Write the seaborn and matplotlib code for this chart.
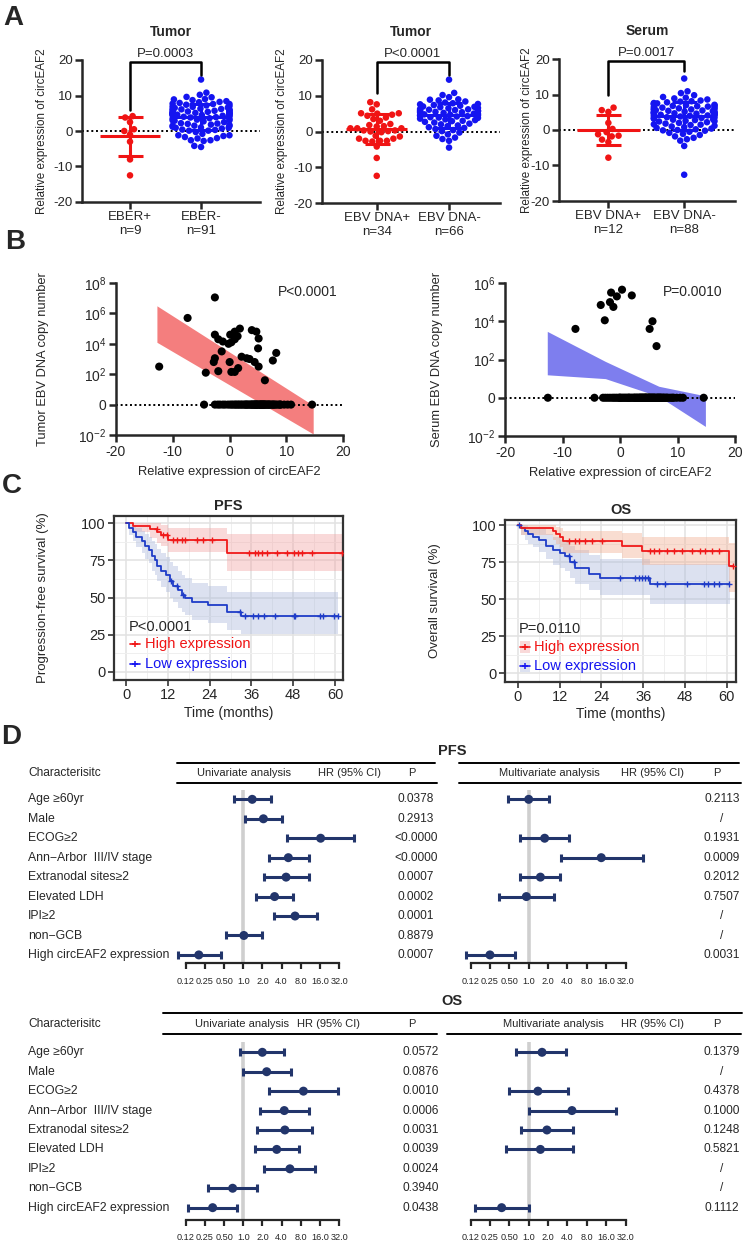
import numpy as np
import pandas as pd
import matplotlib
matplotlib.use("Agg")
import matplotlib.pyplot as plt
from matplotlib.ticker import MultipleLocator, NullLocator
import seaborn as sns

sns.set_theme(style="ticks")
plt.rcParams["font.family"] = ["Liberation Sans", "DejaVu Sans"]
plt.rcParams["mathtext.fontset"] = "custom"
plt.rcParams["mathtext.rm"] = "Liberation Sans"
plt.rcParams["axes.unicode_minus"] = False

# ---------------- data ----------------
# A: relative circEAF2 expression per group
eber_pos = [4.2, 3.8, 2.5, 0.5, 0.0, -1.0, -3.0, -8.0, -12.5]

# tumor EBV DNA+ patients: expression and log10 copy number (panel A2 / B1)
tumor_pos_expr = [-12.4, -7.4, -4.2, -2.8, -2.6, -2.6, -2.6, -2.0, -2.0, -1.4,
                  -1.2, -0.2, 0.0, 0.1, 0.3, 0.3, 0.9, 0.9, 0.9, 1.4,
                  1.5, 1.8, 2.1, 3.0, 3.5, 3.9, 4.4, 4.7, 5.0, 5.1,
                  5.1, 6.2, 7.6, 8.2]
tumor_pos_logc = [2.5, 5.7, 2.1, 2.8, 7.05, 4.6, 3.05, 4.3, 2.2, 3.5,
                  4.15, 4.0, 2.8, 4.6, 4.1, 2.15, 4.8, 4.3, 2.15, 4.5,
                  2.4, 5.0, 3.15, 3.05, 3.0, 4.9, 2.8, 4.8, 3.7, 4.35,
                  2.5, 1.6, 2.9, 3.4]
# tumor EBV DNA- patients (copy number 0)
tumor_neg_expr = [14.5, 10.8, 10.2, 9.6, 9.0, 8.7, 8.4, 8.1, 7.9, 7.6,
                  7.4, 7.2, 7.0, 6.8, 6.6, 6.5, 6.3, 6.2, 6.0, 5.9,
                  5.8, 5.6, 5.5, 5.4, 5.3, 5.2, 5.0, 4.9, 4.8, 4.7,
                  4.6, 4.5, 4.3, 4.2, 4.0, 3.8, 3.6, 3.4, 3.2, 3.0,
                  2.7, 2.5, 2.2, 2.0, 1.7, 1.5, 1.2, 1.0, 0.7, 0.4,
                  0.1, -0.3, -0.8, -1.2, -1.7, -2.1, -2.6, -4.5, 6.1, 5.7,
                  4.4, 7.7, 6.9, 8.9, 3.9, 2.9]
# EBER- = EBV DNA- tumors plus the remaining EBV DNA+ tumors
eber_neg = tumor_neg_expr + [-4.2, -2.8, -2.6, -2.0, -1.4, -1.2, 0.1, 0.3, 0.9, 0.9,
                             1.4, 1.5, 1.8, 2.1, 3.0, 3.5, 4.7, 5.0, 5.1, 5.1,
                             6.2, 7.6, 8.2, 9.5, 4.4]

serum_pos_expr = [-7.8, -3.4, -2.7, -1.8, -1.6, -1.2, -0.6, 0.3, 2.0, 5.1, 5.6, 6.3]
serum_pos_logc = [3.6, 4.85, 4.05, 5.0, 5.5, 4.75, 5.3, 5.65, 5.35, 3.6, 4.0, 2.7]
serum_neg_expr = [14.5, 10.9, 10.4, 9.8, 9.3, 8.9, 8.6, 8.3, 8.0, 7.8,
                  7.6, 7.4, 7.2, 7.0, 6.9, 6.7, 6.6, 6.4, 6.3, 6.1,
                  6.0, 5.9, 5.7, 5.6, 5.5, 5.4, 5.2, 5.1, 5.0, 4.9,
                  4.8, 4.6, 4.5, 4.4, 4.3, 4.1, 4.0, 3.9, 3.8, 3.6,
                  3.5, 3.3, 3.2, 3.0, 2.8, 2.6, 2.4, 2.2, 2.0, 1.8,
                  1.6, 1.4, 1.2, 1.0, 0.8, 0.6, 0.4, 0.2, 0.0, -0.2,
                  -0.5, -0.8, -1.1, -1.4, -1.8, -2.2, -2.6, -3.0, -4.5, -12.6,
                  7.1, 6.5, 5.8, 5.3, 4.7, 4.2, 3.4, 2.9, 8.1, 6.8,
                  5.0, 4.4, 3.7, 2.5, 7.5, 9.1, 1.5, -0.1]

# B: regression confidence bands (log10 copies)
tumor_band_x = [-12.8, 14.7]
tumor_band_lo = [4.1, -1.93]
tumor_band_hi = [6.5, -0.05]
serum_band_x = [-12.7, -2.6, 6.7, 14.8]
serum_band_lo = [1.2, 1.0, 0.07, -1.5]
serum_band_hi = [3.47, 1.9, 0.6, 0.1]

# C: Kaplan-Meier estimates (%), 95% CI and censor times (months)
pfs_high_t = [0, 2, 7, 9, 10, 12, 29]
pfs_high_s = [100, 98, 96, 94, 92, 89, 80]
pfs_high_lo = [100, 94, 90, 87, 85, 81, 68]
pfs_high_hi = [100, 100, 100, 100, 99, 97, 93]
pfs_high_cens = [8.8, 10.7, 11.7, 13.6, 14.6, 16.0, 16.9, 20.3, 22.2, 24.6, 35.2, 37.1,
                 38.0, 39.0, 40.4, 43.3, 46.2, 48.1, 49.5, 50.5, 53.4, 62.0]
pfs_low_t = [0, 1, 2, 3, 4.5, 5.5, 6.5, 7.5, 8.2, 9, 10, 11.5, 12.5, 13.5, 15, 16, 17, 19, 23.5, 29, 33]
pfs_low_s = [100, 97, 94, 91, 88, 85, 82, 78, 75, 71, 68, 65, 61, 58, 55, 52, 50, 47, 45, 40, 37.5]
pfs_low_lo = [100, 92, 88, 84, 80, 76, 73, 68, 65, 61, 57, 54, 50, 47, 43, 40, 38, 35, 33, 28, 25.5]
pfs_low_hi = [100, 100, 99, 97, 95, 93, 91, 88, 86, 83, 80, 77, 74, 71, 68, 65, 63, 60, 58, 54, 53.5]
pfs_low_cens = [13.0, 14.6, 16.5, 32.8, 34.2, 36.6, 38.0, 39.5, 42.8, 48.1, 48.6, 55.7, 56.7, 59.6, 61.0]

os_high_t = [0, 1, 10, 11, 12, 13, 30, 35.5, 60.5]
os_high_s = [100, 98, 96, 94, 92, 89, 86, 82.5, 72.5]
os_high_lo = [100, 93, 90, 87, 85, 81, 77.5, 73, 55]
os_high_hi = [100, 100, 100, 99, 98, 96, 94.5, 92, 88]
os_high_cens = [14.6, 16.5, 17.5, 19.4, 21.3, 24.2, 38.0, 39.0, 40.4, 42.8, 44.7, 47.1,
                50.0, 52.3, 53.8, 55.7, 57.6, 61.6]
os_low_t = [0, 1, 2, 3, 4.5, 6, 8, 10, 12, 13.5, 15, 16.5, 20.5, 23.5, 38]
os_low_s = [100, 98, 96, 94, 92, 90, 86, 83, 81, 79, 75, 71, 67, 64, 60]
os_low_lo = [100, 93, 90, 87, 85, 82, 77, 73, 71, 69, 64, 60, 56, 53, 47]
os_low_hi = [100, 100, 100, 99, 98, 97, 94, 92, 90, 89, 86, 83, 80, 77, 74]
os_low_cens = [0.3, 14.6, 16.0, 29.4, 33.7, 34.7, 35.6, 36.6, 37.5, 39.9, 42.3, 48.5,
               53.3, 54.7, 56.2, 57.6, 60.5]

# D: Cox regression
rows = ["Age \u226560yr", "Male", "ECOG\u22652", "Ann\u2212Arbor  III/IV stage", "Extranodal sites\u22652",
        "Elevated LDH", "IPI\u22652", "non\u2212GCB", "High circEAF2 expression"]
nan = np.nan
pfs_uni_hr = [1.38, 2.07, 16.4, 5.1, 4.7, 3.1, 6.5, 1.02, 0.20]
pfs_uni_lo = [0.72, 1.07, 4.9, 2.5, 2.1, 1.6, 3.05, 0.53, 0.093]
pfs_uni_hi = [2.7, 4.08, 55, 10.8, 10.8, 6.1, 14.2, 2.0, 0.44]
pfs_uni_p = ["0.0378", "0.2913", "<0.0000", "<0.0000", "0.0007", "0.0002", "0.0001", "0.8879", "0.0007"]
pfs_multi_hr = [1.0, nan, 1.77, 13.4, 1.52, 0.92, nan, nan, 0.25]
pfs_multi_lo = [0.48, nan, 0.74, 3.2, 0.73, 0.35, nan, nan, 0.107]
pfs_multi_hi = [2.04, nan, 4.2, 59, 3.1, 2.45, nan, nan, 0.61]
pfs_multi_p = ["0.2113", "/", "0.1931", "0.0009", "0.2012", "0.7507", "/", "/", "0.0031"]
os_uni_hr = [1.99, 2.33, 8.8, 4.4, 4.5, 3.35, 5.4, 0.68, 0.33]
os_uni_lo = [0.89, 0.98, 2.56, 1.83, 1.66, 1.53, 2.14, 0.28, 0.137]
os_uni_hi = [4.4, 5.7, 31, 10.8, 12.1, 7.6, 13.4, 1.62, 0.81]
os_uni_p = ["0.0572", "0.0876", "0.0010", "0.0006", "0.0031", "0.0039", "0.0024", "0.3940", "0.0438"]
os_multi_hr = [1.61, nan, 1.39, 4.7, 1.92, 1.52, nan, nan, 0.38]
os_multi_lo = [0.64, nan, 0.49, 1.0, 0.76, 0.44, nan, nan, 0.145]
os_multi_hi = [3.8, nan, 4.08, 22.6, 4.8, 4.9, nan, nan, 1.0]
os_multi_p = ["0.1379", "/", "0.4378", "0.1000", "0.1248", "0.5821", "/", "/", "0.1112"]

hr_ticks = [0.125, 0.25, 0.5, 1, 2, 4, 8, 16, 32]
hr_tick_labels = ["0.12", "0.25", "0.50", "1.0", "2.0", "4.0", "8.0", "16.0", "32.0"]

RED = "#F01414"
BLUE = "#1414F0"
NAVY = "#22356B"

W, H = 744, 1242
fig = plt.figure(figsize=(W / 100, H / 100), dpi=100)


def px_axes(x0, y0, x1, y1):
    return fig.add_axes([x0 / W, 1 - y1 / H, (x1 - x0) / W, (y1 - y0) / H])


# overlay in pixel coordinates for letters and the table text
ov = fig.add_axes([0, 0, 1, 1])
ov.set_xlim(0, W)
ov.set_ylim(H, 0)
ov.axis("off")
for letter, (lx, ly) in zip("ABCD", [(13, 18), (15, 242), (12, 486), (11, 737)]):
    ov.text(lx, ly, letter, fontsize=20, fontweight="bold", ha="center", va="center")


# ---------------- A: scatter dot plots ----------------
def scatter_panel(ax, pos, neg, ticklabels, title, ptext, legs, xlim, ylab_x):
    df = pd.DataFrame({"grp": ["pos"] * len(pos) + ["neg"] * len(neg), "val": list(pos) + list(neg)})
    ax.set_ylim(-20, 20)
    ax.axhline(0, color="black", ls=(0, (1, 1.4)), lw=1.4, zorder=1)
    sns.swarmplot(data=df, x="grp", y="val", hue="grp", order=["pos", "neg"], hue_order=["pos", "neg"],
                  palette=[RED, BLUE], size=4.7, legend=False, ax=ax, warn_thresh=1, zorder=2)
    for i, (vals, col) in enumerate([(pos, RED), (neg, BLUE)]):
        m, sd = np.mean(vals), np.std(vals, ddof=1)
        ax.hlines(m, i - 0.42, i + 0.42, color=col, lw=2.2, zorder=4)
        ax.errorbar(i, m, yerr=sd, color=col, capsize=9, elinewidth=2.2, capthick=2.2, zorder=4)
    ax.set_xlim(*xlim)
    ax.set_ylim(-20, 20)
    ax.plot([0, 0, 1, 1], [legs[0], 19.4, 19.4, legs[1]], color="black", lw=1.8, clip_on=False)
    ax.text(0.5, 21.6, ptext, ha="center", va="center", fontsize=9.5)
    ax.text(0.5, 1.197, title, transform=ax.transAxes, ha="center", va="center", fontsize=10, fontweight="bold")
    ax.set_yticks([-20, -10, 0, 10, 20])
    ax.set_xticks([0, 1])
    ax.set_xticklabels(ticklabels, fontsize=9.5, linespacing=1.25)
    ax.tick_params(axis="both", length=5, width=1.8, labelsize=9.5, pad=1.5)
    for sp in ["left", "bottom"]:
        ax.spines[sp].set_linewidth(1.8)
    sns.despine(ax=ax)
    ax.set_xlabel("")
    ax.set_ylabel("Relative expression of circEAF2", fontsize=8.4)
    ax.yaxis.set_label_coords(ylab_x, 0.5)
    ax.yaxis.label.set_va("center")


a1 = px_axes(82, 60, 260, 202)
scatter_panel(a1, eber_pos, eber_neg, ["EBER+\nn=9", "EBER-\nn=91"], "Tumor", "P=0.0003",
              (5.9, 15.8), (-0.676, 1.83), (41.7 - 82) / 178)
a2 = px_axes(322, 60, 500, 203)
scatter_panel(a2, tumor_pos_expr, tumor_neg_expr, ["EBV DNA+\nn=34", "EBV DNA-\nn=66"], "Tumor", "P<0.0001",
              (10.7, 15.8), (-0.757, 1.705), (282 - 322) / 178)
a3 = px_axes(559, 59, 735, 201)
scatter_panel(a3, serum_pos_expr, serum_neg_expr, ["EBV DNA+\nn=12", "EBV DNA-\nn=88"], "Serum", "P=0.0017",
              (10.0, 16.5), (-0.651, 1.67), (527 - 559) / 176)


# ---------------- B: copy number vs expression ----------------
def copy_panel(ax, pos_x, pos_logc, neg_x, bx, blo, bhi, bcol, top_exp, ptext, pxy, ylabel, ylab_x):
    ax.set_yscale("log")
    ax.fill_between(bx, 10 ** np.array(blo), 10 ** np.array(bhi), color=bcol, lw=0, zorder=1)
    ax.axhline(1, color="black", ls=(0, (1, 1.4)), lw=1.4, zorder=2)
    df = pd.DataFrame({"expr": list(pos_x) + list(neg_x),
                       "copies": [10 ** v for v in pos_logc] + [0] * len(neg_x)})
    # zero copy numbers are drawn on the "0" row
    df["plot_y"] = df["copies"].where(df["copies"] > 0, 1.0)
    sns.scatterplot(data=df, x="expr", y="plot_y", color="black", s=34, edgecolor="none",
                    ax=ax, zorder=3, legend=False, clip_on=False)
    ax.set_xlim(-20, 20)
    ax.set_ylim(1e-2, 10 ** top_exp)
    exps = list(range(-2, top_exp + 1, 2))
    ax.set_yticks([10.0 ** e for e in exps])
    ax.set_yticklabels(["0" if e == 0 else r"$\mathregular{10^{%d}}$" % e for e in exps])
    ax.yaxis.set_minor_locator(NullLocator())
    ax.set_xticks([-20, -10, 0, 10, 20])
    ax.tick_params(axis="both", length=5, width=1.8, labelsize=10, pad=2)
    for sp in ["left", "bottom"]:
        ax.spines[sp].set_linewidth(1.8)
    sns.despine(ax=ax)
    ax.set_xlabel("Relative expression of circEAF2", fontsize=9.3)
    ax.xaxis.set_label_coords(0.5, -(473 - 436) / 153)
    ax.xaxis.label.set_va("center")
    ax.set_ylabel(ylabel, fontsize=9.3)
    ax.yaxis.set_label_coords(ylab_x, 0.5)
    ax.yaxis.label.set_va("center")
    ax.text(pxy[0], pxy[1], ptext, transform=ax.transAxes, ha="center", va="center", fontsize=10)


b1 = px_axes(116, 283, 343.3, 435)
copy_panel(b1, tumor_pos_expr, tumor_pos_logc, tumor_neg_expr, tumor_band_x, tumor_band_lo, tumor_band_hi,
           "#F47E7E", 8, "P<0.0001", (0.845, 0.94), "Tumor EBV DNA copy number", (43 - 116) / 227)
b2 = px_axes(505.3, 283, 735.3, 436)
copy_panel(b2, serum_pos_expr, serum_pos_logc, serum_neg_expr, serum_band_x, serum_band_lo, serum_band_hi,
           "#7E7EEE", 6, "P=0.0010", (0.816, 0.94), "Serum EBV DNA copy number", (437 - 505.3) / 230)


# ---------------- C: Kaplan-Meier ----------------
def km_curve(ax, t, s, lo, hi, cens, band_end, color, band):
    ax.fill_between(list(t) + [band_end], list(lo) + [lo[-1]], list(hi) + [hi[-1]], step="post",
                    color=band, alpha=0.4, lw=0, zorder=1)
    df = pd.DataFrame({"time": list(t) + [max(cens)], "surv": list(s) + [s[-1]]})
    sns.lineplot(data=df, x="time", y="surv", drawstyle="steps-post", color=color, lw=1.3,
                 estimator=None, ax=ax, zorder=3)
    idx = np.searchsorted(t, cens, side="right") - 1
    ax.plot(cens, np.array(s)[idx], ls="none", marker="+", color=color, ms=4.5, mew=1.0, zorder=4)


def km_panel(ax, curves, title, ylabel, ptext, xlim, ylim, ylab_x, key_pos, key_band):
    for c in curves:
        km_curve(ax, *c)
    ax.set_xlim(*xlim)
    ax.set_ylim(*ylim)
    ax.set_xticks(range(0, 61, 12))
    ax.set_yticks([0, 25, 50, 75, 100])
    ax.xaxis.set_minor_locator(MultipleLocator(6))
    ax.yaxis.set_minor_locator(MultipleLocator(12.5))
    ax.set_axisbelow(True)
    ax.grid(which="major", color="#E2E2E2", lw=1.1)
    ax.grid(which="minor", color="#EFEFEF", lw=0.7)
    ax.tick_params(which="minor", length=0)
    ax.tick_params(which="major", length=4, width=1.2, labelsize=10.5, pad=2, color="#333333")
    for sp in ax.spines.values():
        sp.set_color("#333333")
        sp.set_linewidth(1.6)
    ax.set_title(title, fontsize=10.5, fontweight="bold", pad=4)
    ax.set_xlabel("Time (months)", fontsize=10)
    ax.xaxis.set_label_coords(0.5, -(713 - 680) / 164)
    ax.xaxis.label.set_va("center")
    ax.set_ylabel(ylabel, fontsize=9.5)
    ax.yaxis.set_label_coords(ylab_x, 0.5)
    ax.yaxis.label.set_va("center")
    kx, ky = key_pos
    ax.text(kx, ky, ptext, fontsize=10.5, va="center", ha="left")
    keys = [("High expression", RED, "#F2A0A0"), ("Low expression", BLUE, "#A8B6DA")]
    for (lab, col, bcol), yy in zip(keys, [ky - 12, ky - 25]):
        if key_band:
            ax.fill_between([kx + 0.3, kx + 3.1], yy - 4, yy + 4, color=bcol, alpha=0.4, lw=0)
        ax.plot([kx + 0.3, kx + 3.1], [yy, yy], color=col, lw=1.2)
        ax.plot(kx + 1.7, yy, marker="+", color=col, ms=5, mew=1.1)
        ax.text(kx + 4.5, yy, lab, color=col, fontsize=10.5, va="center", ha="left")


c1 = px_axes(114, 516, 343, 680)
km_panel(c1, [(pfs_high_t, pfs_high_s, pfs_high_lo, pfs_high_hi, pfs_high_cens, 63, "#F01A1A", "#F2A0A0"),
              (pfs_low_t, pfs_low_s, pfs_low_lo, pfs_low_hi, pfs_low_cens, 61, "#1F3CC8", "#A8B6DA")],
         "PFS", "Progression-free survival (%)", "P<0.0001", (-3.45, 62.3), (-5.4, 104.9),
         (43 - 114) / 229, (0.9, 30.5), False)
c2 = px_axes(505.3, 520, 736, 681.7)
km_panel(c2, [(os_low_t, os_low_s, os_low_lo, os_low_hi, os_low_cens, 61, "#1F3CC8", "#A8B6DA"),
              (os_high_t, os_high_s, os_high_lo, os_high_hi, os_high_cens, 63, "#F01A1A", "#F2AC8E")],
         "OS", "Overall survival (%)", "P=0.0110", (-3.56, 62.6), (-5.7, 103.4),
         (435 - 505.3) / 231, (0.3, 29.8), True)


# ---------------- D: forest plots ----------------
def forest(ax, hr, lo, hi, one_px, per2, px0, px1, ylim, tick_pad):
    hr, lo, hi = np.array(hr, float), np.array(lo, float), np.array(hi, float)
    y = np.arange(len(hr))
    ok = ~np.isnan(hr)
    ax.set_xscale("log", base=2)
    ax.axvline(1, color="#CFCFCF", lw=2.6, zorder=0)
    ax.errorbar(hr[ok], y[ok], xerr=[hr[ok] - lo[ok], hi[ok] - hr[ok]], fmt="none", ecolor=NAVY,
                elinewidth=2.2, capsize=2.6, capthick=2.2, zorder=2)
    sns.scatterplot(x=hr[ok], y=y[ok], color=NAVY, s=42, edgecolor="none", ax=ax, zorder=3, legend=False)
    ax.set_xlim(2 ** ((px0 - one_px) / per2), 2 ** ((px1 - one_px) / per2))
    ax.set_ylim(*ylim)
    ax.set_xticks(hr_ticks)
    ax.set_xticklabels(hr_tick_labels)
    ax.xaxis.set_minor_locator(NullLocator())
    ax.set_yticks([])
    ax.tick_params(axis="x", length=4, width=1.6, labelsize=6.6, pad=tick_pad)
    for sp in ["left", "top", "right"]:
        ax.spines[sp].set_visible(False)
    ax.spines["bottom"].set_bounds(0.125, 32)
    ax.spines["bottom"].set_linewidth(1.6)
    ax.patch.set_alpha(0)
    ax.set_xlabel("")
    ax.set_ylabel("")


def table_block(title, title_y, head_y, line_top, line_bottom, row0, step, uni_x, hr_x, p_uni_x,
                p_multi_x, multi_x, multi_hr_x, p_uni, p_multi, top_split):
    ov.text(452, title_y, title, fontsize=10.5, fontweight="bold", ha="center", va="center")
    x_left = 177 if top_split else 163
    if top_split:
        ov.plot([x_left, 435], [line_top, line_top], color="black", lw=1.4)
        ov.plot([459, 739], [line_top, line_top], color="black", lw=1.4)
    else:
        ov.plot([x_left, 742], [line_top, line_top], color="black", lw=1.4)
    ov.plot([x_left, 437], [line_bottom, line_bottom], color="black", lw=1.4)
    ov.plot([459 if top_split else 447, 741], [line_bottom, line_bottom], color="black", lw=1.4)
    hs = 8.0
    ov.text(28, head_y, "Characterisitc", fontsize=8.6, va="center")
    ov.text(uni_x, head_y, "Univariate analysis", fontsize=hs, va="center")
    ov.text(hr_x, head_y, "HR (95% CI)", fontsize=hs, va="center")
    ov.text(412, head_y, "P", fontsize=hs, va="center", ha="center")
    ov.text(multi_x, head_y, "Multivariate analysis", fontsize=hs, va="center")
    ov.text(multi_hr_x, head_y, "HR (95% CI)", fontsize=hs, va="center")
    ov.text(p_multi_x - 5, head_y, "P", fontsize=hs, va="center", ha="center")
    for i, lab in enumerate(rows):
        yy = row0 + step * i
        ov.text(28, yy, lab, fontsize=8.8, va="center")
        ov.text(p_uni_x, yy, p_uni[i], fontsize=8.6, va="center", ha="center")
        ov.text(p_multi_x, yy, p_multi[i], fontsize=8.6, va="center", ha="center")


table_block("PFS", 751, 773, 763, 783, 799.3, 19.46, 197, 318, 416, 722, 499, 621,
            pfs_uni_p, pfs_multi_p, True)
table_block("OS", 1001, 1024, 1012.7, 1034, 1052.3, 19.42, 195, 297, 421, 722, 503, 621,
            os_uni_p, os_multi_p, False)

d1 = px_axes(170, 790, 362, 962.7)
forest(d1, pfs_uni_hr, pfs_uni_lo, pfs_uni_hi, 243.3, 19.16, 170, 362, (8.40, -0.48), 6)
d2 = px_axes(460, 790, 650, 962.7)
forest(d2, pfs_multi_hr, pfs_multi_lo, pfs_multi_hi, 528.7, 19.375, 460, 650, (8.40, -0.48), 6)
d3 = px_axes(170, 1041.7, 362, 1220)
forest(d3, os_uni_hr, os_uni_lo, os_uni_hi, 243.3, 19.16, 170, 362, (8.635, -0.546), 5)
d4 = px_axes(460, 1041.7, 650, 1220)
forest(d4, os_multi_hr, os_multi_lo, os_multi_hi, 528.7, 19.375, 460, 650, (8.635, -0.546), 5)

fig.savefig("out.png", dpi=100)
